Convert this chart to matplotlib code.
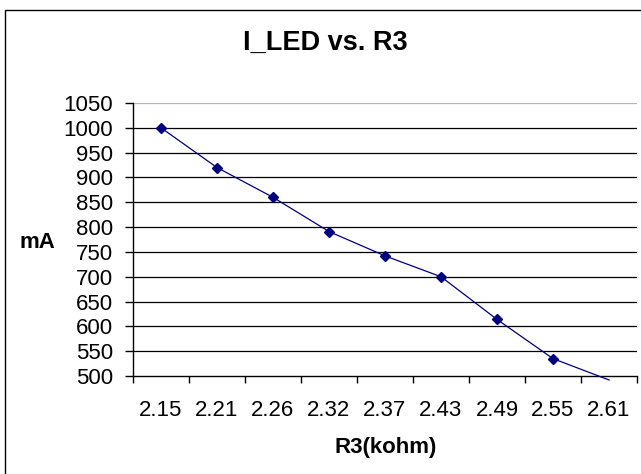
import matplotlib
matplotlib.use("Agg")
import matplotlib.pyplot as plt
from matplotlib.patches import Rectangle
from matplotlib.ticker import FixedLocator, NullFormatter

plt.rcParams['font.family'] = ['Liberation Sans', 'DejaVu Sans']

categories = ["2.15", "2.21", "2.26", "2.32", "2.37", "2.43", "2.49", "2.55", "2.61"]
current_mA = [1000, 920, 860, 791, 742, 700, 614, 535, 492]
y_ticks = [500, 550, 600, 650, 700, 750, 800, 850, 900, 950, 1000, 1050]

W, H = 641, 474
fig = plt.figure(figsize=(W / 100, H / 100), dpi=100)
fig.patch.set_facecolor('white')

# outer chart border (runs off the right/bottom edge as in the reference)
fig.patches.append(Rectangle((5 / W, -0.05), 1.1, 1 - 9.5 / H + 0.05,
                             transform=fig.transFigure, fill=False,
                             edgecolor='black', linewidth=1.0))

left, right, top, bottom = 133, 637, 103, 376
ax = fig.add_axes([left / W, 1 - bottom / H, (right - left) / W, (bottom - top) / H])
ax.set_facecolor('white')

x = list(range(len(categories)))
ax.set_xlim(-0.5, len(categories) - 0.5)
ax.set_ylim(500, 1050)

# gridlines
for yv in y_ticks[1:]:
    ax.axhline(yv, color='#b4b4b4' if yv == 1050 else '#000000', linewidth=0.9, zorder=1)

visible = [i for i, v in enumerate(current_mA) if v >= 500]
ax.plot(x, current_mA, color='#000080', linewidth=0.9, marker='D', markersize=5,
        markerfacecolor='#000080', markeredgecolor='#000080', markevery=visible,
        clip_on=False, zorder=3)

# y axis
ax.set_yticks(y_ticks)
ax.set_yticklabels([str(v) for v in y_ticks], fontsize=16)
ax.tick_params(axis='y', direction='out', length=5.5, width=1, pad=9, colors='black')

# x axis: ticks at category boundaries, labels at centers
bounds = [i - 0.5 for i in range(len(categories) + 1)]
ax.xaxis.set_major_locator(FixedLocator(bounds))
ax.xaxis.set_major_formatter(NullFormatter())
ax.xaxis.set_minor_locator(FixedLocator(x))
ax.set_xticklabels(categories, minor=True, fontsize=16)
ax.tick_params(axis='x', which='major', direction='out', length=5, width=1, colors='black')
ax.tick_params(axis='x', which='minor', length=0, pad=17.5)

for s in ['top', 'right']:
    ax.spines[s].set_visible(False)
for s in ['left', 'bottom']:
    ax.spines[s].set_color('black')
    ax.spines[s].set_linewidth(1)

fig.text(325.5 / W, 1 - 42.5 / H, "I_LED vs. R3", ha='center', va='center',
         fontsize=19.5, fontweight='bold')
fig.text(37.5 / W, 1 - 242 / H, "mA", ha='center', va='center',
         fontsize=16, fontweight='bold')
fig.text(386 / W, 1 - 448 / H, "R3(kohm)", ha='center', va='center',
         fontsize=16, fontweight='bold')

fig.savefig("out.png", dpi=100, facecolor='white')
